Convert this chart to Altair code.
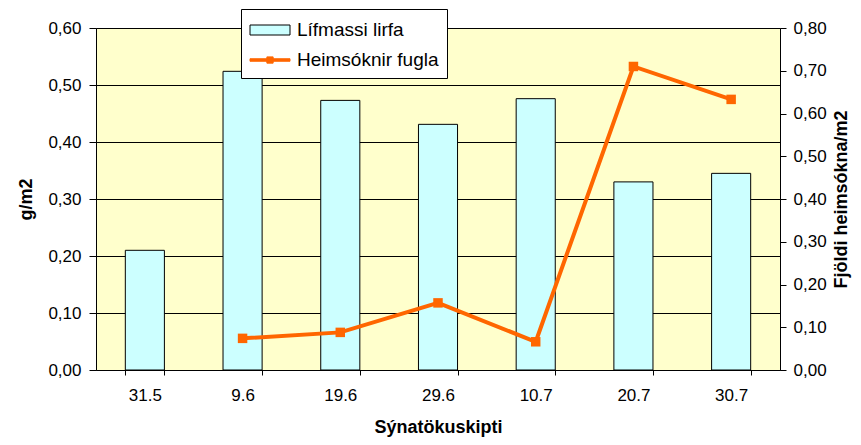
import altair as alt
import pandas as pd

categories = ["31.5", "9.6", "19.6", "29.6", "10.7", "20.7", "30.7"]
biomass = [0.21, 0.524, 0.473, 0.431, 0.476, 0.330, 0.345]
visits = [None, 0.074, 0.088, 0.157, 0.066, 0.710, 0.633]
series_names = ["Lífmassi lirfa", "Heimsóknir fugla"]

bars_df = pd.DataFrame({"cat": categories, "val": biomass, "series": series_names[0]})
line_df = pd.DataFrame({"cat": categories, "val": visits, "series": series_names[1]})
line_df = line_df.dropna()

FONT = "Liberation Sans"

xenc = alt.X(
    "cat:N",
    sort=categories,
    scale=alt.Scale(paddingInner=0.6, paddingOuter=0.3),
    axis=alt.Axis(
        title="Sýnatökuskipti",
        labelAngle=0,
        tickBand="extent",
        labelPadding=12,
        titlePadding=15,
    ),
)

fill_scale = alt.Scale(domain=series_names, range=["#CCFFFF", "#FF6600"])

is_bar = "datum.value == 'Lífmassi lirfa'"
legend = alt.Legend(
    title=None,
    orient="none",
    legendX=145,
    legendY=-19,
    fillColor="white",
    strokeColor="black",
    padding=8,
    symbolSize=625,
    symbolOffset=8,
    labelOffset=14,
    rowPadding=7,
    labelFontSize=19,
    labelFont=FONT,
    labelColor="black",
    symbolType=alt.ExprRef(
        f"{is_bar} ? 'M-1.6,-0.4H1.6V0.4H-1.6Z' : 'M-1.6,-0.1H1.6V0.1H-1.6Z M-0.25,-0.25H0.25V0.25H-0.25Z'"
    ),
    symbolStrokeColor=alt.ExprRef(f"{is_bar} ? 'black' : '#FF6600'"),
    symbolStrokeWidth=1,
    symbolOpacity=1,
)

bars = alt.Chart(bars_df).mark_bar(stroke="black", strokeWidth=1).encode(
    x=xenc,
    y=alt.Y(
        "val:Q",
        scale=alt.Scale(domain=[0, 0.6], nice=False),
        axis=alt.Axis(
            title="g/m2",
            values=[0, 0.1, 0.2, 0.3, 0.4, 0.5, 0.6],
            labelExpr="replace(format(datum.value, '.2f'), '.', ',')",
            grid=True,
            gridColor="black",
            gridOpacity=1,
            tickSize=7,
            labelPadding=8,
            titlePadding=12,
        ),
    ),
    fill=alt.Fill("series:N", scale=fill_scale, legend=legend),
)

line = alt.Chart(line_df).mark_line(
    color="#FF6600",
    strokeWidth=4,
    point=alt.OverlayMarkDef(shape="square", filled=True, size=90, opacity=1, color="#FF6600"),
).encode(
    x=xenc,
    y=alt.Y(
        "val:Q",
        scale=alt.Scale(domain=[0, 0.8], nice=False),
        axis=alt.Axis(
            title="Fjöldi heimsókna/m2",
            titleAngle=270,
            titleX=61,
            titleY=171,
            titleAlign="center",
            titleBaseline="middle",
            orient="right",
            values=[0, 0.1, 0.2, 0.3, 0.4, 0.5, 0.6, 0.7, 0.8],
            labelExpr="replace(format(datum.value, '.2f'), '.', ',')",
            grid=False,
            tickSize=6,
            labelPadding=7,
        ),
    ),
)

chart = (
    alt.layer(bars, line)
    .resolve_scale(y="independent")
    .properties(
        width=684,
        height=342,
        autosize=alt.AutoSizeParams(type="none"),
        padding={"left": 88, "top": 20, "right": 73, "bottom": 67},
        background="white",
    )
    .configure_view(fill="#FFFFCC", stroke="#808080", strokeWidth=1)
    .configure_axis(
        domainColor="black",
        domainWidth=1,
        tickColor="black",
        labelFont=FONT,
        labelFontSize=17,
        labelColor="black",
        titleFont=FONT,
        titleFontSize=18,
        titleFontWeight="bold",
        titleColor="black",
    )
)

chart.save("out.html", embed_options={"renderer": "svg", "actions": False})
